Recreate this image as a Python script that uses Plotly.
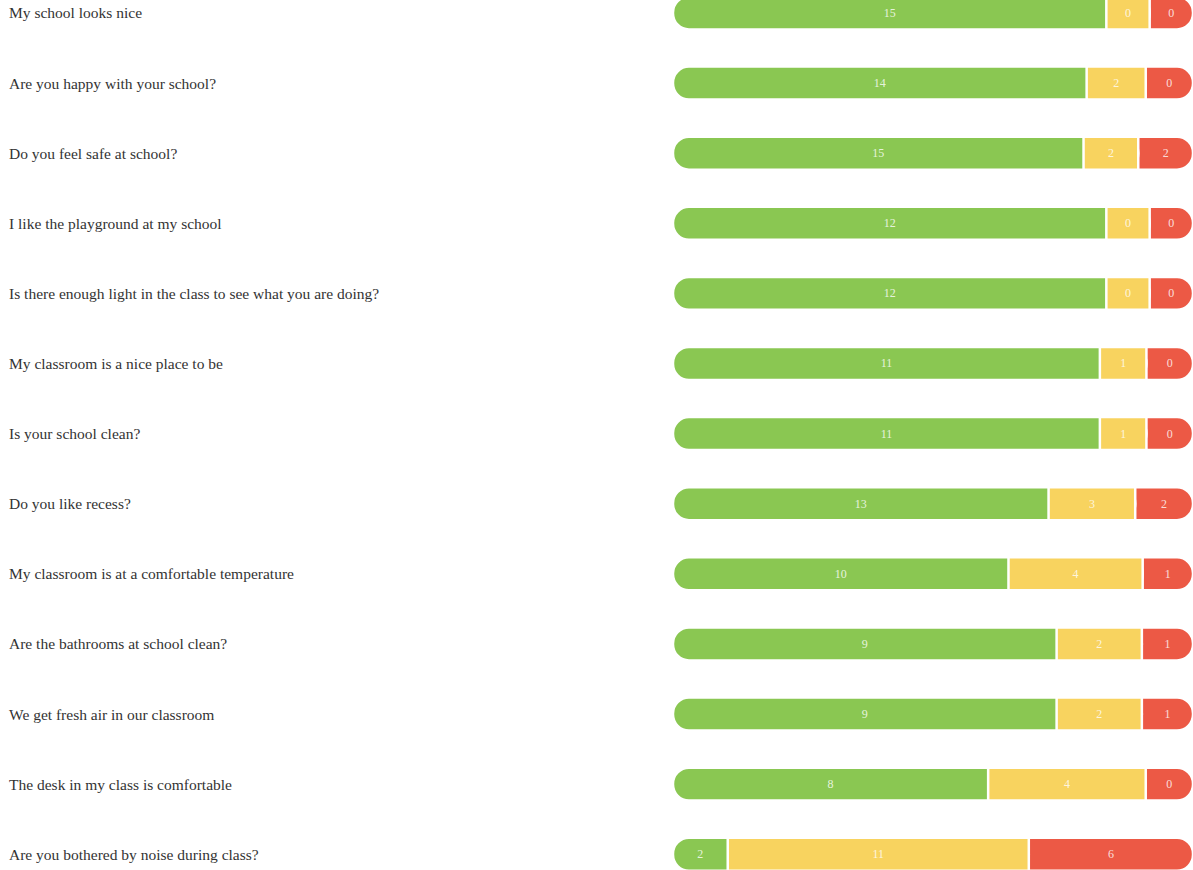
import plotly.graph_objects as go

questions = [
    "My school looks nice",
    "Are you happy with your school?",
    "Do you feel safe at school?",
    "I like the playground at my school",
    "Is there enough light in the class to see what you are doing?",
    "My classroom is a nice place to be",
    "Is your school clean?",
    "Do you like recess?",
    "My classroom is at a comfortable temperature",
    "Are the bathrooms at school clean?",
    "We get fresh air in our classroom",
    "The desk in my class is comfortable",
    "Are you bothered by noise during class?",
]
agree = [15, 14, 15, 12, 12, 11, 11, 13, 10, 9, 9, 8, 2]
neutral = [0, 2, 2, 0, 0, 1, 1, 3, 4, 2, 2, 4, 11]
disagree = [0, 0, 2, 0, 0, 0, 0, 2, 1, 1, 1, 0, 6]

GREEN = "#8AC752"
YELLOW = "#F8D35F"
RED = "#EC5945"
MIN_SHARE = 0.1  # minimum visible share of each segment (display rule)

# display widths (percent of row), each segment at least MIN_SHARE of the row total
g_w, y_w, r_w = [], [], []
for a, n, d in zip(agree, neutral, disagree):
    tot = a + n + d
    m = MIN_SHARE * tot
    da, dn, dd = max(a, m), max(n, m), max(d, m)
    s = da + dn + dd
    g_w.append(100 * da / s)
    y_w.append(100 * dn / s)
    r_w.append(100 * dd / s)

n_rows = len(questions)
line = dict(color="white", width=2.5)
txtfont = dict(family="Liberation Serif", size=12, color="rgba(255,255,255,0.8)")
BW = 0.47
R = 16

fig = go.Figure()
# bottom: full-length red capsule (gives rounded right end)
fig.add_trace(go.Bar(
    y=questions, x=[g + y + r for g, y, r in zip(g_w, y_w, r_w)], base=[0] * n_rows,
    orientation="h", marker=dict(color=RED, line=line, cornerradius=R),
    width=BW, hoverinfo="skip",
))
# green capsule up to the end of the yellow part (rounded left end)
fig.add_trace(go.Bar(
    y=questions, x=[g + y for g, y in zip(g_w, y_w)], base=[0] * n_rows,
    orientation="h", marker=dict(color=GREEN, line=line, cornerradius=R),
    width=BW, hoverinfo="skip",
))
# yellow rectangle on top
fig.add_trace(go.Bar(
    y=questions, x=y_w, base=g_w, orientation="h",
    marker=dict(color=YELLOW, line=line, cornerradius=0),
    width=BW, hoverinfo="skip",
))

# value labels on transparent segments
bases = [[0] * n_rows, g_w, [g + y for g, y in zip(g_w, y_w)]]
widths = [g_w, y_w, r_w]
vals = [agree, neutral, disagree]
for b, w, v in zip(bases, widths, vals):
    fig.add_trace(go.Bar(
        y=questions, x=w, base=b, orientation="h",
        marker=dict(color="rgba(0,0,0,0)", line=dict(width=0), cornerradius=0),
        text=[str(t) for t in v], textposition="inside", insidetextanchor="middle",
        textangle=0, insidetextfont=txtfont, width=BW, hoverinfo="skip",
    ))

for q in questions:
    fig.add_annotation(
        x=0, xref="paper", y=q, yref="y", text=q, showarrow=False,
        xanchor="left", xshift=7, yshift=0,
        font=dict(family="Liberation Serif", size=15.5, color="#333333"),
    )

fig.update_layout(
    width=1193, height=870, barmode="overlay", showlegend=False,
    margin=dict(l=0, r=0, t=0, b=0),
    paper_bgcolor="white", plot_bgcolor="white",
    uniformtext=dict(minsize=8, mode="show"),
)
fig.update_xaxes(domain=[673 / 1193, 1], range=[0, 100], visible=False, fixedrange=True)
fig.update_yaxes(categoryorder="array", categoryarray=questions,
                 range=[12.225, -0.185], showticklabels=False, showgrid=False,
                 zeroline=False, fixedrange=True)

fig.write_html("out.html", config={"displayModeBar": False},
               post_script="document.body.style.margin='0';")
